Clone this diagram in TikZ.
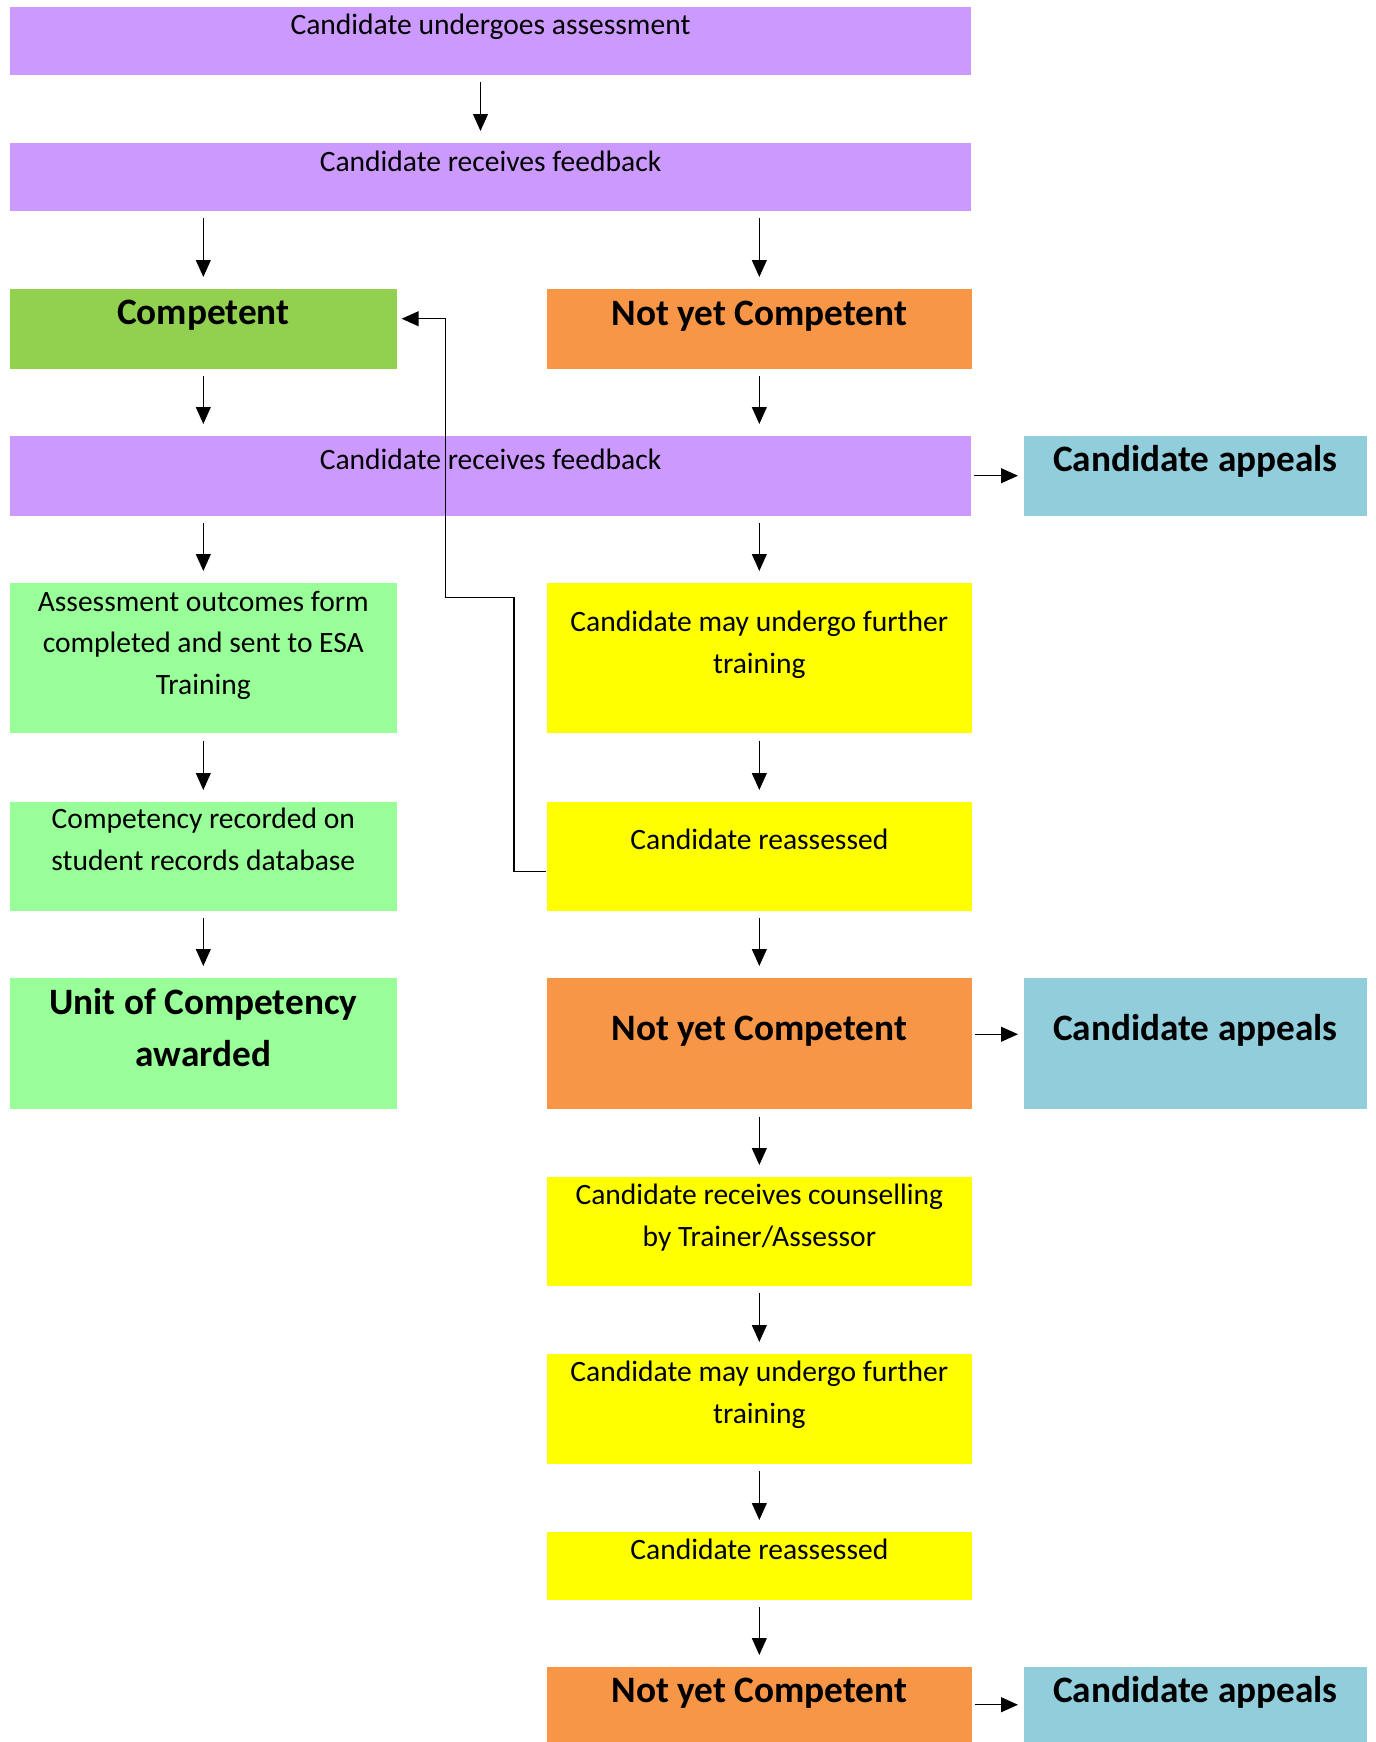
\documentclass[tikz,border=0pt]{standalone}
\usepackage{fontspec}
\setmainfont{Carlito}
\usetikzlibrary{arrows.meta,calc}

\definecolor{lilac}{HTML}{CC99FF}
\definecolor{passgreen}{HTML}{92D050}
\definecolor{mint}{HTML}{99FF99}
\definecolor{failorange}{HTML}{F79646}
\definecolor{lemon}{HTML}{FFFF00}
\definecolor{appealblue}{HTML}{92CDDC}

\def\smalltext{\fontsize{8.4}{11.9}\selectfont}
\def\bigtext{\fontsize{10.6}{14.8}\selectfont\bfseries}

\tikzset{
	box/.style={inner sep=0pt, anchor=north west, align=center, font=\smalltext},
	bigbox/.style={box, font=\bigtext},
	flow/.style={-{Triangle[length=4.8pt,width=4.2pt]}, line width=0.4pt, shorten <=0.07cm, shorten >=0.11cm},
	side/.style={flow, shorten <=0.02cm, shorten >=0.05cm},
	back/.style={flow, shorten <=0pt, shorten >=0.04cm},
}

\begin{document}
\begin{tikzpicture}[x=0.01cm, y=-0.01cm]
			%%%%% START %%%%%
			\useasboundingbox (0,0) rectangle (1375,1742);
			
			\node[box, fill=lilac, minimum width=9.61cm, text height=0.28cm, text depth=0.40cm] (undergo) at (9,6) {Candidate undergoes assessment};
			\node[box, fill=lilac, minimum width=9.61cm, text height=0.29cm, text depth=0.39cm] (feedbackA) at (9,142) {Candidate receives feedback};
			
			\node[bigbox, fill=passgreen, minimum width=3.87cm, text height=0.36cm, text depth=0.44cm] (competent) at (9,288) {Competent};
			\node[bigbox, fill=failorange, minimum width=4.25cm, text height=0.37cm, text depth=0.43cm] (notyetA) at (546,288) {Not yet Competent};
			
			\node[box, fill=lilac, minimum width=9.61cm, text height=0.34cm, text depth=0.46cm] (feedbackB) at (9,435) {Candidate receives feedback};
			\node[bigbox, fill=appealblue, minimum width=3.43cm, text height=0.36cm, text depth=0.44cm] (appealA) at (1023,435) {Candidate appeals};
			
			% competent side
			\node[box, fill=mint, minimum width=3.87cm, text height=1.12cm, text depth=0.38cm] (outcomes) at (9,582) {Assessment outcomes form\\completed and sent to ESA\\Training};
			\node[box, fill=mint, minimum width=3.87cm, text height=0.69cm, text depth=0.40cm] (recorded) at (9,801) {Competency recorded on\\student records database};
			\node[bigbox, fill=mint, minimum width=3.87cm, text height=0.89cm, text depth=0.42cm] (unit) at (9,977) {Unit of Competency\\awarded};
			
			% not yet competent side
			\node[box, fill=lemon, minimum width=4.25cm, text height=0.91cm, text depth=0.59cm] (trainA) at (546,582) {Candidate may undergo further\\training};
			\node[box, fill=lemon, minimum width=4.25cm, text height=0.48cm, text depth=0.61cm] (reassA) at (546,801) {Candidate reassessed};
			\node[bigbox, fill=failorange, minimum width=4.25cm, text height=0.63cm, text depth=0.68cm] (notyetB) at (546,977) {Not yet Competent};
			\node[bigbox, fill=appealblue, minimum width=3.43cm, text height=0.63cm, text depth=0.68cm] (appealB) at (1023,977) {Candidate appeals};
			
			\node[box, fill=lemon, minimum width=4.25cm, text height=0.70cm, text depth=0.39cm] (counsel) at (546,1176) {Candidate receives counselling\\by Trainer/Assessor};
			\node[box, fill=lemon, minimum width=4.25cm, text height=0.70cm, text depth=0.40cm] (trainB) at (546,1353) {Candidate may undergo further\\training};
			\node[box, fill=lemon, minimum width=4.25cm, text height=0.28cm, text depth=0.40cm] (reassB) at (546,1531) {Candidate reassessed};
			\node[bigbox, fill=failorange, minimum width=4.25cm, text height=0.36cm, text depth=0.40cm] (notyetC) at (546,1666) {Not yet Competent};
			\node[bigbox, fill=appealblue, minimum width=3.43cm, text height=0.36cm, text depth=0.40cm] (appealC) at (1023,1666) {Candidate appeals};
			
			% arrows
			\draw[flow] ($(undergo.south)+(-10,0)$) -- ($(feedbackA.north)+(-10,0)$);
			\draw[flow] (feedbackA.south -| competent.north) -- (competent.north);
			\draw[flow] (feedbackA.south -| notyetA.north) -- (notyetA.north);
			\draw[flow] (competent.south) -- (competent.south |- feedbackB.north);
			\draw[flow] (notyetA.south) -- (notyetA.south |- feedbackB.north);
			\draw[side] (feedbackB.east) -- (appealA.west);
			
			\draw[flow] (feedbackB.south -| outcomes.north) -- (outcomes.north);
			\draw[flow] (outcomes.south) -- (recorded.north);
			\draw[flow] (recorded.south) -- (unit.north);
			
			\draw[flow] (feedbackB.south -| trainA.north) -- (trainA.north);
			\draw[flow] (trainA.south) -- (reassA.north);
			\draw[flow] (reassA.south) -- (notyetB.north);
			\draw[side] ($(notyetB.east)+(0,-9)$) -- ($(appealB.west)+(0,-9)$);
			
			\draw[flow] (notyetB.south) -- (counsel.north);
			\draw[flow] (counsel.south) -- (trainB.north);
			\draw[flow] (trainB.south) -- (reassB.north);
			\draw[flow] (reassB.south) -- (notyetC.north);
			\draw[side] (notyetC.east) -- (appealC.west);
			
			% back to competent
			\draw[back] ($(reassA.west)+(0,15)$) -| ($(reassA.west)+(-32,-259)$) -| ($(competent.east)+(48,-10)$) -- ($(competent.east)+(0,-10)$);
			
			%%%%% END %%%%%
\end{tikzpicture}
\end{document}
